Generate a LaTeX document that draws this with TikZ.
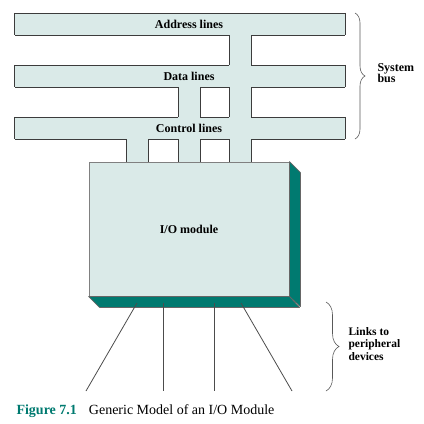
\documentclass[tikz,border=0pt]{standalone}
\usepackage{fontspec}
\setmainfont{Liberation Serif}
\usepackage{tikz}
\usetikzlibrary{decorations.pathreplacing}
\definecolor{busfill}{HTML}{DAEAE8}
\definecolor{modteal}{HTML}{007A70}
\definecolor{edgegray}{HTML}{3C3C3C}
\tikzset{every node/.style={font=\fontsize{12}{11.5}\selectfont\bfseries}}

\begin{document}
\begin{tikzpicture}[x=1pt, y=-1pt,
  bus/.style={fill=busfill, minimum width=330pt, minimum height=22pt, inner sep=0pt},
  tap/.style={fill=busfill, anchor=north west, minimum width=22pt, inner sep=0pt},
  rim/.style={draw=edgegray, line width=0.8pt},
  module/.style={draw=gray, fill=busfill, line width=0.8pt, minimum width=200pt, minimum height=134pt, inner sep=0pt},
  face/.style={draw=gray!80!black, fill=modteal, line width=0.7pt, line join=round},
  link/.style={draw=gray!60!black, line width=0.8pt},
  curly/.style={draw=gray!70!black, line width=0.6pt, decorate}]
  \useasboundingbox (0,0) rectangle (424,424);

  % the three bus lines
  \node[bus] at (180, 24) (addr) {};
  \node[bus] at (180, 76) (data) {};
  \node[bus] at (180,128) (ctrl) {};

  % taps down to the module
  \node[tap, minimum height=127pt] at (229, 35) (addrtap) {};
  \node[tap, minimum height=75pt]  at (178, 87) (datatap) {};
  \node[tap, minimum height=23pt]  at (126,139) (ctrltap) {};

  % outlines, broken where a tap passes
  \foreach \y/\xa/\xb in {13/15/345,
                          35/15/229, 35/251/345, 65/15/229, 65/251/345,
                          87/15/178, 87/200/229, 87/251/345,
                          117/15/178, 117/200/229, 117/251/345,
                          139/15/126, 139/148/178, 139/200/229, 139/251/345}
    \draw[rim] (\xa,\y) -- (\xb,\y);
  \foreach \b in {addr, data, ctrl}
    \draw[rim] (\b.north west) -- (\b.south west) (\b.north east) -- (\b.south east);
  \foreach \x/\ya/\yb in {229/35/65, 251/35/65, 229/87/117, 251/87/117, 229/139/162, 251/139/162,
                          178/87/117, 200/87/117, 178/139/162, 200/139/162, 126/139/162, 148/139/162}
    \draw[rim] (\x,\ya) -- (\x,\yb);

  \node at ([xshift=9pt]addr.center) (addrtxt) {Address lines};
  \node at ([xshift=9pt]data.center) (datatxt) {Data lines};
  \node at ([xshift=9pt]ctrl.center) (ctrltxt) {Control lines};

  % the I/O module block
  \node[module] at (189, 229) (io) {I/O module};
  \draw[face] (io.north east) -- ++(11, 11) -- ++(0, 134) -- (io.south east) -- cycle;
  \draw[face] (io.south west) -- ++(11, 11) -- ++(200, 0) -- (io.south east) -- cycle;

  % links to the devices
  \coordinate (s1) at (137, 303);  \coordinate (e1) at ( 86, 391);
  \coordinate (s2) at (163, 303);  \coordinate (e2) at (163, 391);
  \coordinate (s3) at (214, 303);  \coordinate (e3) at (214, 391);
  \coordinate (s4) at (241, 303);  \coordinate (e4) at (292, 391);
  \foreach \i in {1,...,4}
    \draw[link] (s\i) -- (e\i);

  % braces and their texts
  \coordinate (bt) at (355, 13);   \coordinate (bb) at (355, 139);
  \coordinate (lt) at (326, 302);  \coordinate (lb) at (326, 391);
  \draw[curly, decoration={brace, amplitude=10pt}] (bt) -- (bb);
  \draw[curly, decoration={brace, amplitude=13pt}] (lt) -- (lb);
  \node[anchor=west, align=left] at (374, 73) (sysbus) {System\\bus};
  \node[anchor=west, align=left, font=\fontsize{11.5}{12.5}\selectfont\bfseries] at (345, 344) (links) {Links to\\peripheral\\devices};

  \node[anchor=west, font=\fontsize{14}{16}\selectfont] at (13, 411) (cap)
    {\textcolor{modteal}{\bfseries Figure 7.1}\hspace{12pt}Generic Model of an I/O Module};
\end{tikzpicture}
\end{document}
